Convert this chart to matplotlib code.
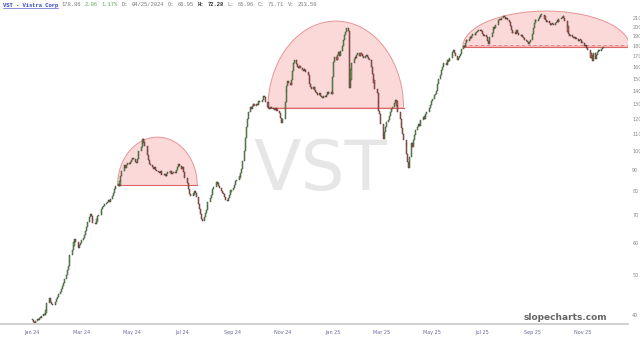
import numpy as np
import pandas as pd
import matplotlib
matplotlib.use("Agg")
import matplotlib.pyplot as plt
import matplotlib.dates as mdates
from matplotlib.ticker import NullLocator, FixedLocator, FixedFormatter

# daily closes, month by month
jan24 = [38.9, 38.6, 38.4, 38.8, 39.2, 39.0, 39.5, 39.3, 39.8, 40.2, 40.0, 40.6, 41.3, 42.8, 44.1, 43.6, 43.0, 42.7, 42.4, 42.6, 43.1, 43.8]
feb24 = [44.2, 45.0, 45.6, 46.3, 47.2, 48.0, 48.9, 50.1, 51.4, 52.6, 54.3, 56.0, 57.6, 58.8, 60.2, 61.1, 60.3, 59.0, 58.4, 59.2, 60.0]
mar24 = [60.8, 61.5, 62.7, 64.1, 65.5, 67.2, 69.1, 70.4, 69.6, 68.2, 67.0, 66.5, 67.3, 68.4, 69.5, 70.2, 71.0, 72.3, 73.1, 73.8, 74.4]
apr24 = [74.8, 75.5, 76.2, 75.4, 76.6, 77.8, 79.3, 80.9, 81.6, 82.4, 83.1, 82.5, 84.6, 87.3, 89.8, 91.6, 92.4, 91.2, 92.8, 93.9, 93.2, 94.4]
may24 = [95.1, 96.3, 95.6, 94.2, 93.5, 95.8, 98.2, 100.4, 102.6, 104.9, 106.8, 105.2, 102.7, 100.3, 98.1, 95.4, 93.2, 92.6, 91.4, 90.8, 91.6, 90.3, 89.7]
jun24 = [89.2, 88.5, 89.4, 88.1, 87.6, 88.3, 87.2, 86.9, 88.0, 89.1, 89.6, 88.7, 87.9, 88.4, 89.2, 88.6, 90.1, 91.8, 93.0, 92.1]
jul24 = [90.6, 91.4, 89.3, 87.5, 85.9, 83.8, 81.2, 80.1, 78.6, 77.9, 78.4, 79.3, 80.2, 79.1, 77.4, 74.6, 72.3, 70.4, 68.6, 67.8, 69.2, 70.8, 72.1]
aug24 = [73.5, 75.2, 77.1, 78.4, 79.6, 80.8, 82.1, 83.3, 84.2, 83.6, 82.4, 81.5, 80.2, 79.4, 78.6, 77.5, 76.3, 75.8, 76.9, 78.2, 79.5, 80.6]
sep24 = [81.4, 82.7, 83.9, 84.6, 85.3, 86.1, 87.2, 88.4, 90.6, 94.8, 100.2, 107.5, 114.6, 119.8, 124.3, 127.9, 126.4, 128.8, 130.2, 129.1, 130.5]
oct24 = [129.4, 131.2, 132.6, 131.8, 133.5, 135.1, 136.4, 135.2, 131.6, 128.3, 127.5, 126.8, 127.9, 127.2, 126.4, 125.8, 127.1, 126.5, 125.3, 123.6, 120.4, 118.2, 117.1]
nov24 = [119.5, 131.8, 140.2, 143.6, 147.9, 146.5, 144.8, 149.3, 156.2, 163.4, 166.1, 162.8, 160.4, 158.9, 161.2, 159.4, 157.6, 156.3, 158.1, 157.2, 155.8]
dec24 = [153.4, 149.6, 145.2, 143.1, 141.8, 143.5, 140.6, 139.2, 138.4, 137.1, 138.6, 136.2, 135.4, 134.8, 136.3, 135.1, 137.2, 138.5, 139.4, 137.6, 138.9, 137.9]
jan25 = [151.6, 164.8, 169.5, 166.2, 171.3, 173.8, 170.6, 174.9, 179.6, 186.2, 191.4, 194.8, 198.6, 196.2, 142.3, 148.9, 158.6, 163.4, 167.8, 169.1, 168.2, 171.4]
feb25 = [173.2, 170.4, 171.8, 172.6, 169.8, 168.5, 170.2, 171.1, 169.4, 167.6, 166.2, 160.4, 153.8, 149.2, 146.1, 141.5, 138.3, 131.6, 125.4, 122.8]
mar25 = [116.4, 109.8, 107.2, 111.5, 114.3, 117.6, 119.2, 121.8, 124.6, 126.9, 128.4, 131.2, 133.5, 132.1, 128.6, 124.3, 119.5, 116.2, 113.8, 110.1, 106.5]
apr25 = [104.2, 98.6, 94.1, 91.3, 96.8, 104.9, 102.3, 106.7, 109.4, 112.6, 114.8, 116.3, 115.2, 117.9, 119.4, 120.8, 119.6, 121.5, 123.2, 124.7, 126.1, 127.4]
may25 = [129.6, 132.4, 134.1, 136.8, 137.5, 140.2, 145.6, 149.8, 153.1, 157.4, 160.2, 161.8, 163.5, 162.1, 164.8, 166.2, 165.1, 168.4, 171.6, 174.2, 176.1, 173.4]
jun25 = [170.3, 166.4, 168.2, 170.1, 172.6, 176.8, 180.2, 178.6, 183.4, 186.2, 184.9, 187.6, 189.8, 188.3, 190.4, 192.1, 191.3, 193.5, 194.8, 196.2, 197.4]
jul25 = [196.1, 195.3, 192.8, 190.4, 191.6, 189.2, 185.4, 182.3, 184.6, 188.9, 193.2, 197.5, 200.4, 199.1, 202.6, 205.3, 207.8, 209.4, 208.2, 210.6, 212.3, 211.1, 209.6]
aug25 = [210.4, 208.6, 206.2, 201.4, 196.8, 193.2, 194.6, 192.8, 195.4, 196.1, 193.7, 191.5, 190.2, 191.8, 189.6, 188.1, 186.4, 184.9, 183.6, 182.2, 183.8]
sep25 = [186.4, 192.7, 199.2, 205.1, 208.4, 206.9, 209.8, 212.1, 211.3, 213.5, 214.2, 212.6, 209.4, 207.8, 205.6, 206.9, 204.3, 202.8, 204.1, 203.2, 202.5]
oct25 = [204.6, 206.2, 207.9, 206.4, 208.8, 210.1, 211.7, 212.4, 210.6, 207.3, 201.2, 194.6, 192.8, 190.3, 191.7, 189.5, 188.2, 189.6, 187.4, 186.8, 185.2, 186.5, 185.8]
nov25 = [184.1, 182.6, 180.4, 181.2, 179.3, 177.8, 175.6, 173.2, 168.4, 170.9, 165.3, 172.8, 167.1, 171.6, 174.2, 176.1, 175.3, 177.4, 178.2, 179.1]

closes = (jan24 + feb24 + mar24 + apr24 + may24 + jun24 + jul24 + aug24 + sep24 + oct24 + nov24 + dec24
          + jan25 + feb25 + mar25 + apr25 + may25 + jun25 + jul25 + aug25 + sep25 + oct25 + nov25)

# rounded-top patterns: start, end, base price, top price
domes = [("2024-04-14", "2024-07-20", 82.6, 108.2),
         ("2024-10-14", "2025-03-28", 127.3, 206.9),
         ("2025-06-08", "2025-12-28", 179.0, 218.8)]
dash_level = 181.5

y_ticks = [40, 50, 60, 70, 80, 90, 100, 110, 120, 130, 140, 150, 160, 170, 180, 190, 200, 210]
title_parts = [("178.86", "#777777"), ("2.06", "#55aa55"), ("1.17%", "#55aa55"),
               ("D:", "#777777"), ("04/25/2024", "#777777"), ("O:", "#777777"), ("66.95", "#777777"),
               ("H:", "#333333"), ("72.28", "#333333"), ("L:", "#777777"), ("65.96", "#777777"),
               ("C:", "#777777"), ("71.71", "#777777"), ("V:", "#777777"), ("213.59", "#777777")]

dates = pd.bdate_range("2024-01-02", periods=len(closes))
c = np.array(closes)
o = np.concatenate([[c[0]], c[:-1]])
up = c >= o

fig = plt.figure(figsize=(6.4, 3.39), dpi=100)
ax = fig.add_axes([0, 15 / 339, 628 / 640, 316 / 339])
ax.set_yscale("log")

# watermark
ax.text(0.51, 0.485, "VST", transform=ax.transAxes, fontsize=50, color="#e6e6e6",
        ha="center", va="center", family=["Liberation Sans Narrow", "DejaVu Sans"], zorder=0)

# domes
for start, end, base, top in domes:
    x0 = mdates.date2num(pd.Timestamp(start))
    x1 = mdates.date2num(pd.Timestamp(end))
    t = np.linspace(0, np.pi, 200)
    xs = (x0 + x1) / 2 + (x1 - x0) / 2 * np.cos(t)
    ys = np.exp(np.log(base) + (np.log(top) - np.log(base)) * np.sin(t))
    ax.fill(xs, ys, facecolor="#fbd3d3", edgecolor="#e58585", linewidth=0.7, alpha=0.85, zorder=1)
    ax.plot([x0, x1], [base, base], color="#e06666", linewidth=0.8, zorder=1)
d0 = mdates.date2num(pd.Timestamp(domes[2][0]))
ax.plot([d0, mdates.date2num(pd.Timestamp("2025-12-26"))], [dash_level, dash_level],
        color="#e07a7a", linewidth=0.6, linestyle=(0, (4, 3)), zorder=1)

# candles
lo = np.minimum(o, c)
hi = np.maximum(o, c)
hi = np.where(hi / lo < 1.006, lo * 1.006, hi)
ax.bar(dates[up], (hi - lo)[up], bottom=lo[up], width=1.3, color="#6aa05a",
       edgecolor="#3a5234", linewidth=0.35, zorder=2)
ax.bar(dates[~up], (hi - lo)[~up], bottom=lo[~up], width=1.3, color="#b5605a",
       edgecolor="#5a3230", linewidth=0.35, zorder=2)

ax.set_xlim(pd.Timestamp("2023-11-23"), pd.Timestamp("2025-12-26"))
ax.set_ylim(38.1, 222.6)

ax.yaxis.tick_right()
ax.yaxis.set_major_locator(FixedLocator(y_ticks))
ax.yaxis.set_major_formatter(FixedFormatter([str(v) for v in y_ticks]))
ax.yaxis.set_minor_locator(NullLocator())
ax.tick_params(axis="y", length=0, pad=3, labelsize=3.5, labelcolor="#888888")

ax.xaxis.set_major_locator(mdates.MonthLocator(bymonth=[1, 3, 5, 7, 9, 11]))
ax.xaxis.set_major_formatter(mdates.DateFormatter("%b %y"))
ax.tick_params(axis="x", length=0, pad=4, labelsize=3.5, labelcolor="#6a6a9a")

for side in ["top", "left", "right"]:
    ax.spines[side].set_visible(False)
ax.spines["bottom"].set_color("#c8c8c8")
ax.spines["bottom"].set_linewidth(1.2)

fig.text(607 / 640, 1 - 318 / 339, "slopecharts.com", fontsize=6.5, fontweight="bold",
         color="#666666", ha="right", va="center")

# header line
t = fig.text(3 / 640, 1 - 5 / 339, "VST - Vistra Corp", fontsize=4, color="#3040c0",
             family="Liberation Mono", fontweight="bold", va="center")
prev = t
for txt, col in title_parts:
    prev = ax.annotate(txt, xy=(1, 0.5), xycoords=prev, xytext=(2.6, 0), textcoords="offset points",
                       fontsize=4, color=col, family="Liberation Mono", va="center",
                       fontweight="bold" if col == "#333333" else "normal", annotation_clip=False)

fig.canvas.draw()
bb = t.get_window_extent()
fig.add_artist(plt.Line2D([bb.x0 / 640, bb.x1 / 640], [(bb.y0 - 0.5) / 339] * 2,
                          color="#3040c0", linewidth=0.4, transform=fig.transFigure))

fig.savefig("out.png", dpi=100)
